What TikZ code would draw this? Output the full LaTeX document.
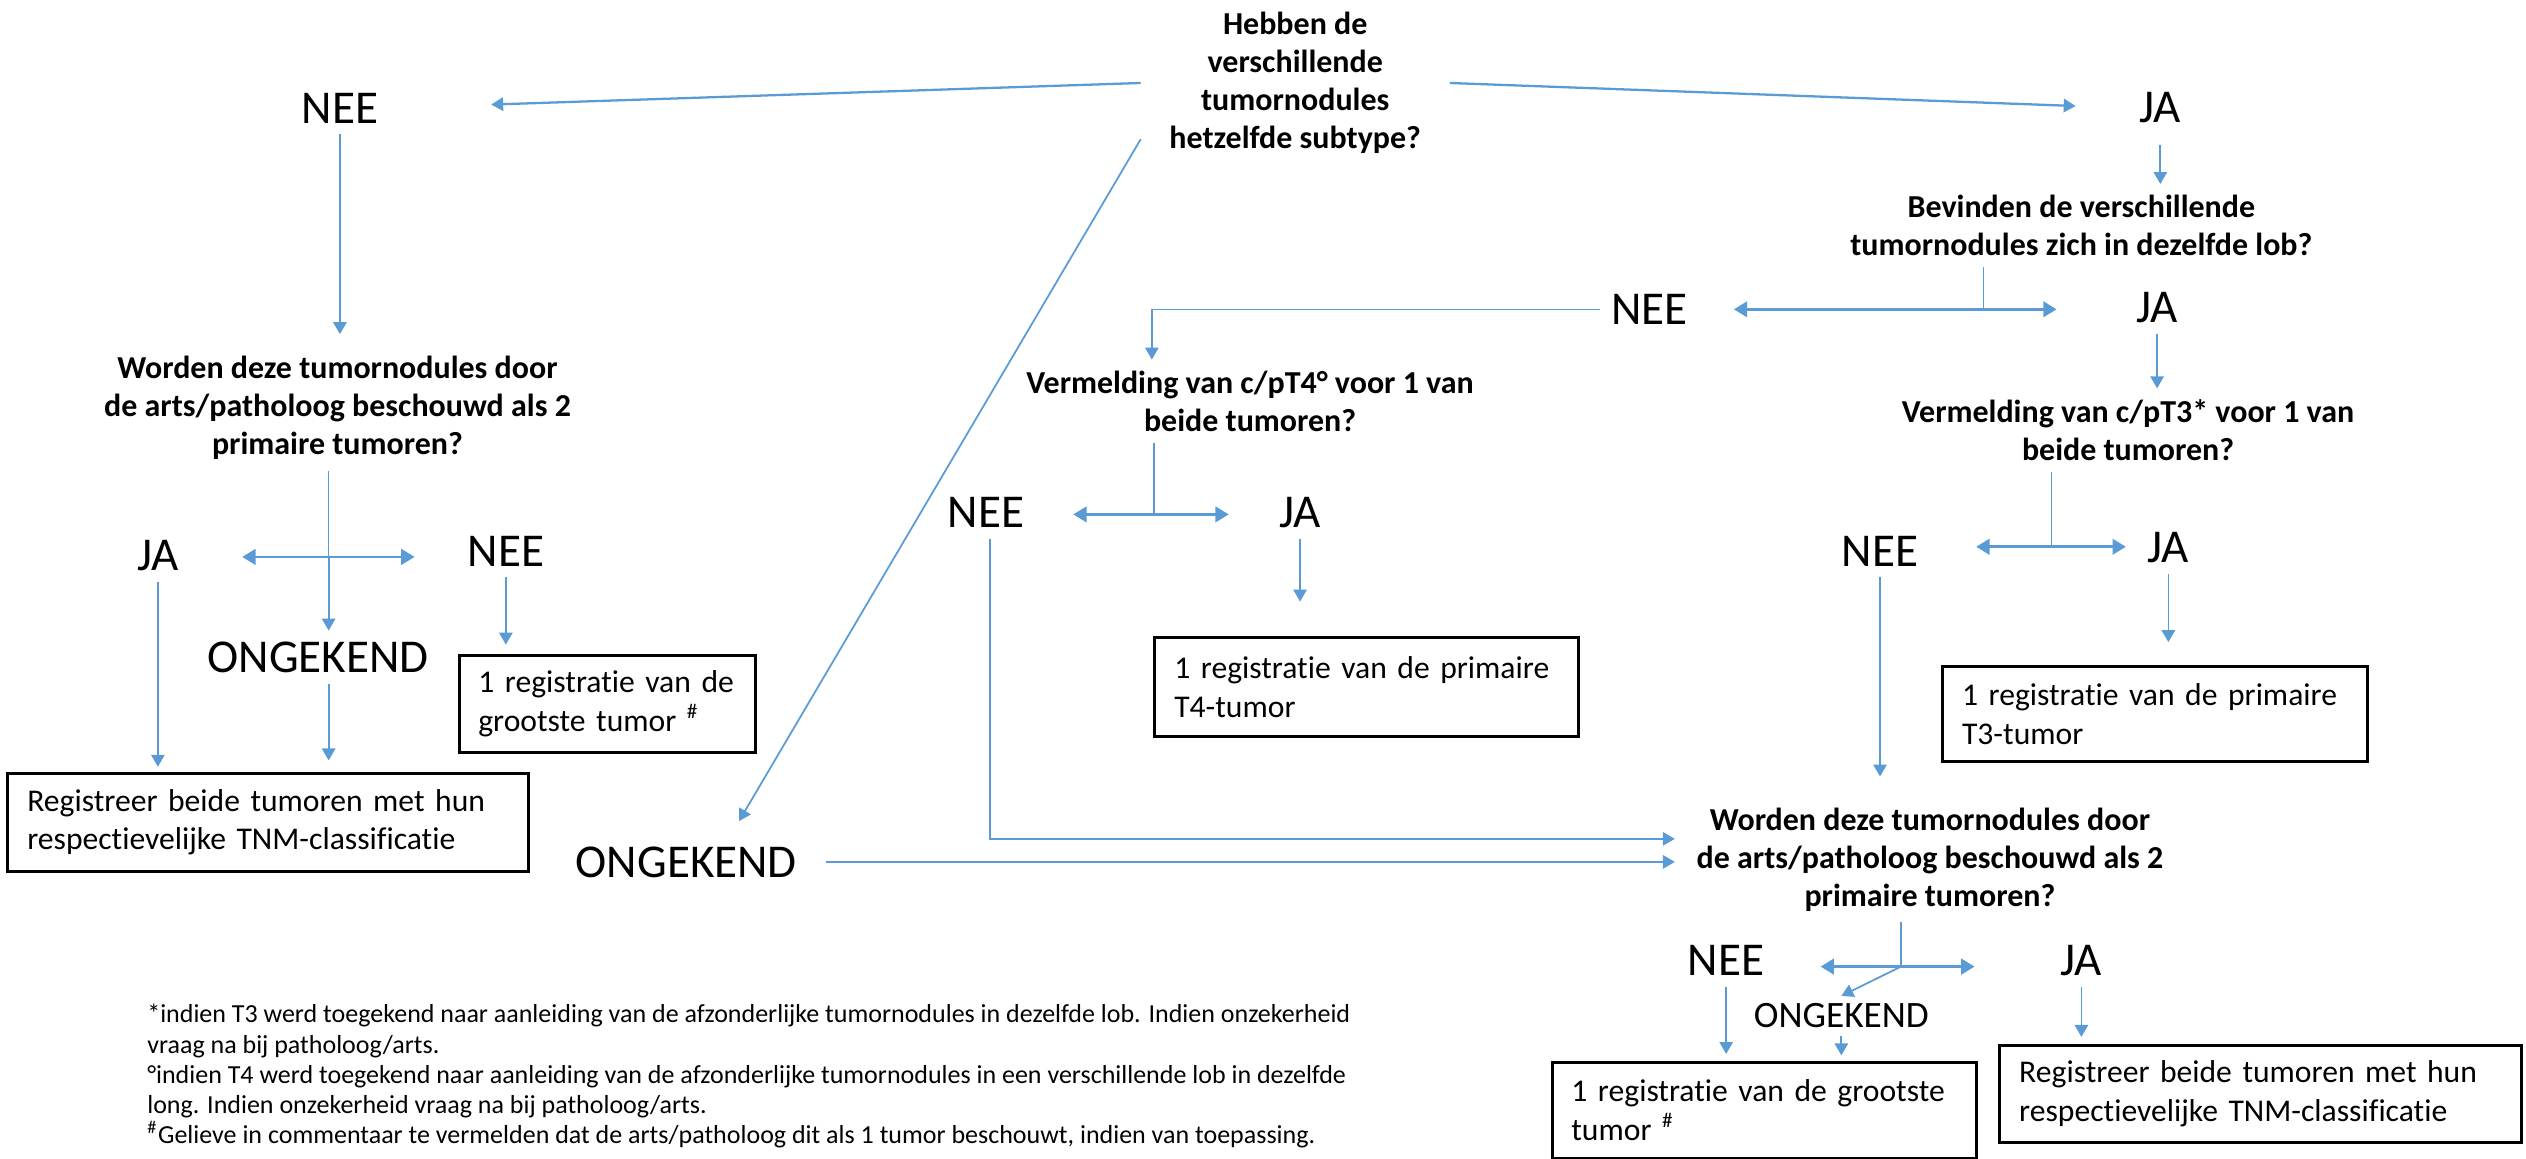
\documentclass[tikz,border=0pt]{standalone}
\usepackage{fontspec}
\setmainfont{Carlito}[Ligatures={NoCommon}]
\usepackage{tikz}
\usetikzlibrary{arrows.meta}
\usepackage{xcolor}
\definecolor{flowblue}{RGB}{91,155,213}
\tikzset{>={Triangle[length=3.4pt,width=3.8pt]}}

\begin{document}
\begin{tikzpicture}[x=0.01611cm, y=-0.01611cm]
    % ans = antwoord (JA/NEE/ONGEKEND), vraag = vraagtekst, regbox = registratiekader
    \tikzstyle{ans}=[font=\fontsize{13.4}{16}\selectfont, inner sep=3pt]
    \tikzstyle{klein}=[font=\fontsize{10.6}{12}\selectfont, inner sep=2pt]
    \tikzstyle{vraag}=[font=\bfseries\fontsize{9.1}{10.8}\selectfont, align=center, inner sep=3pt]
    \tikzstyle{regbox}=[draw=black, line width=0.85pt, anchor=north west, align=left, inner xsep=5.5pt, inner ysep=0pt, font=\fontsize{9}{11}\selectfont]
    \tikzstyle{pijl}=[flowblue, line width=0.5pt, ->]
    \tikzstyle{dubbel}=[flowblue, line width=0.8pt, {Triangle[length=3.8pt,width=4.4pt]}-{Triangle[length=3.8pt,width=4.4pt]}]
    \tikzstyle{stub}=[flowblue, line width=0.35pt]

    \useasboundingbox (0,0) rectangle (1568,719);

    % vraag 1
    \node[vraag, inner xsep=8pt] (subtype) at (804,51.5) {Hebben de\\verschillende\\tumornodules\\hetzelfde subtype?};
    \node[ans] (nee1) at (211,67) {NEE};
    \node[ans] (ja1) at (1341,67) {JA};

    % linkertak
    \node[vraag] (worden1) at (209.5,253) {Worden deze tumornodules door\\de arts/patholoog beschouwd als 2\\primaire tumoren?};
    \node[ans] (ja2) at (98,345) {JA};
    \node[ans] (nee2) at (314,342) {NEE};
    \node[ans] (ong1) at (197.5,408) {ONGEKEND};
    \node[regbox, text width=73.5pt, minimum height=27.5pt] (grootste1) at (284,406) {1 registratie van de\\grootste tumor \textsuperscript{\#}};
    \node[regbox, text width=137.1pt, minimum height=28pt] (beide1) at (4,479) {Registreer beide tumoren met hun\\respectievelijke TNM-classificatie};

    % rechtertak
    \node[vraag] (lob) at (1292,140) {Bevinden de verschillende\\tumornodules zich in dezelfde lob?};
    \node[ans] (nee3) at (1024,192) {NEE};
    \node[ans] (ja3) at (1339,191) {JA};
    \node[vraag] (pt4) at (776,249) {Vermelding van c/pT4° voor 1 van\\beide tumoren?};
    \node[ans] (nee4) at (612,318) {NEE};
    \node[ans] (ja4) at (807,318) {JA};
    \node[regbox, text width=109.6pt, minimum height=28pt] (t4) at (716,395) {1 registratie van de primaire\\T4-tumor};
    \node[vraag] (pt3) at (1321,267) {Vermelding van c/pT3* voor 1 van\\beide tumoren?};
    \node[ans] (nee5) at (1167,342) {NEE};
    \node[ans] (ja5) at (1346,340) {JA};
    \node[regbox, text width=110pt, minimum height=27pt] (t3) at (1205,413) {1 registratie van de primaire\\T3-tumor};

    % onderste vraag
    \node[ans] (ong2) at (426,535) {ONGEKEND};
    \node[vraag, inner xsep=6pt] (worden2) at (1198,533.5) {Worden deze tumornodules door\\de arts/patholoog beschouwd als 2\\primaire tumoren?};
    \node[ans] (nee6) at (1071.5,596) {NEE};
    \node[ans] (ja6) at (1292,596) {JA};
    \node[klein] (ong3) at (1143,630.6) {ONGEKEND};
    \node[regbox, text width=109.8pt, minimum height=27.2pt] (grootste2) at (962.5,658.6) {1 registratie van de grootste\\tumor \textsuperscript{\#}};
    \node[regbox, text width=137.3pt, minimum height=27.5pt] (beide2) at (1240.5,648) {Registreer beide tumoren met hun\\respectievelijke TNM-classificatie};

    % voetnoten
    \node[anchor=north west, align=left, inner sep=0pt, font=\fontsize{7.4}{8.6}\selectfont] (voetnoot) at (91,623) {*indien T3 werd toegekend naar aanleiding van de afzonderlijke tumornodules in dezelfde lob. Indien onzekerheid\\vraag na bij patholoog/arts.\\°indien T4 werd toegekend naar aanleiding van de afzonderlijke tumornodules in een verschillende lob in dezelfde\\long. Indien onzekerheid vraag na bij patholoog/arts.\\\textsuperscript{\#}Gelieve in commentaar te vermelden dat de arts/patholoog dit als 1 tumor beschouwt, indien van toepassing.};

    \coordinate (splitA) at (204,345.7);
    \coordinate (splitB) at (1231,192);
    \coordinate (splitC) at (716.4,319.3);
    \coordinate (splitD) at (1273.5,339.4);
    \coordinate (splitE) at (1180,600);
    \coordinate (knikT4) at (715,192);
    \coordinate (knikNee) at (614.6,520.7);

    \draw[pijl, line width=0.65pt, shorten >=29pt] (subtype.west) -- (nee1.east);
    \draw[pijl, line width=0.65pt, shorten >=15pt] (subtype.east) -- (ja1.west);
    \draw[pijl] (subtype.200) -- ([xshift=15pt,yshift=4pt]ong2.north);

    % linkertak
    \draw[pijl, shorten >=3pt] (nee1.south) -- (nee1.south |- worden1.north);
    \draw[stub] (splitA |- worden1.south) -- (splitA);
    \draw[pijl] (splitA) -- (splitA |- ong1.north);
    \draw[dubbel, shorten <=14.9pt, shorten >=11.9pt] (ja2.east |- splitA) -- (nee2.west |- splitA);
    \draw[pijl, shorten >=1.4pt] (ja2.south) -- (ja2.south |- beide1.north);
    \draw[pijl, shorten >=3.2pt] (splitA |- ong1.south) -- (splitA |- beide1.north);
    \draw[pijl, shorten >=2.7pt] (nee2.south) -- (nee2.south |- grootste1.north);

    % middentak
    \draw[pijl, line width=0.6pt, shorten <=5pt] (ong2.east) -- (ong2.east -| worden2.west);
    \draw[pijl, shorten <=3pt] (ja1.south) -- (ja1.south |- lob.north);
    \draw[stub] (splitB |- lob.south) -- (splitB);
    \draw[dubbel, shorten <=9.9pt, shorten >=19.5pt] (nee3.east |- splitB) -- (ja3.west |- splitB);
    \draw[pijl, line width=0.4pt] (nee3.west) -- (knikT4) -- (knikT4 |- pt4.north);
    \draw[stub] (splitC |- pt4.south) -- (splitC);
    \draw[dubbel, shorten <=10.8pt, shorten >=11.2pt] (nee4.east |- splitC) -- (ja4.west |- splitC);
    \draw[pijl, shorten >=9.9pt] (ja4.south) -- (ja4.south |- t4.north);
    \draw[pijl, line width=0.45pt] (knikNee |- nee4.south) -- (knikNee) -- (knikNee -| worden2.west);
    \draw[pijl] (ja3.south) -- (ja3.south |- pt3.north);
    \draw[stub] (splitD |- pt3.south) -- (splitD);
    \draw[dubbel, shorten <=13.3pt, shorten >=3pt] (nee5.east |- splitD) -- (ja5.west |- splitD);
    \draw[pijl, shorten >=6.6pt] (ja5.south) -- (ja5.south |- t3.north);
    \draw[pijl, shorten >=5.7pt] (nee5.south) -- (nee5.south |- worden2.north);

    % onderste tak
    \draw[stub] (splitE |- worden2.south) -- (splitE);
    \draw[dubbel, shorten <=12.8pt, shorten >=21.3pt] (nee6.east |- splitE) -- (ja6.west |- splitE);
    \draw[pijl] (splitE) -- (ong3.north);
    \draw[pijl, shorten >=2pt] (nee6.south) -- (nee6.south |- grootste2.north);
    \draw[pijl, shorten >=1.6pt] (ong3.south) -- (ong3.south |- grootste2.north);
    \draw[pijl, shorten >=2pt] (ja6.south) -- (ja6.south |- beide2.north);
\end{tikzpicture}
\end{document}
